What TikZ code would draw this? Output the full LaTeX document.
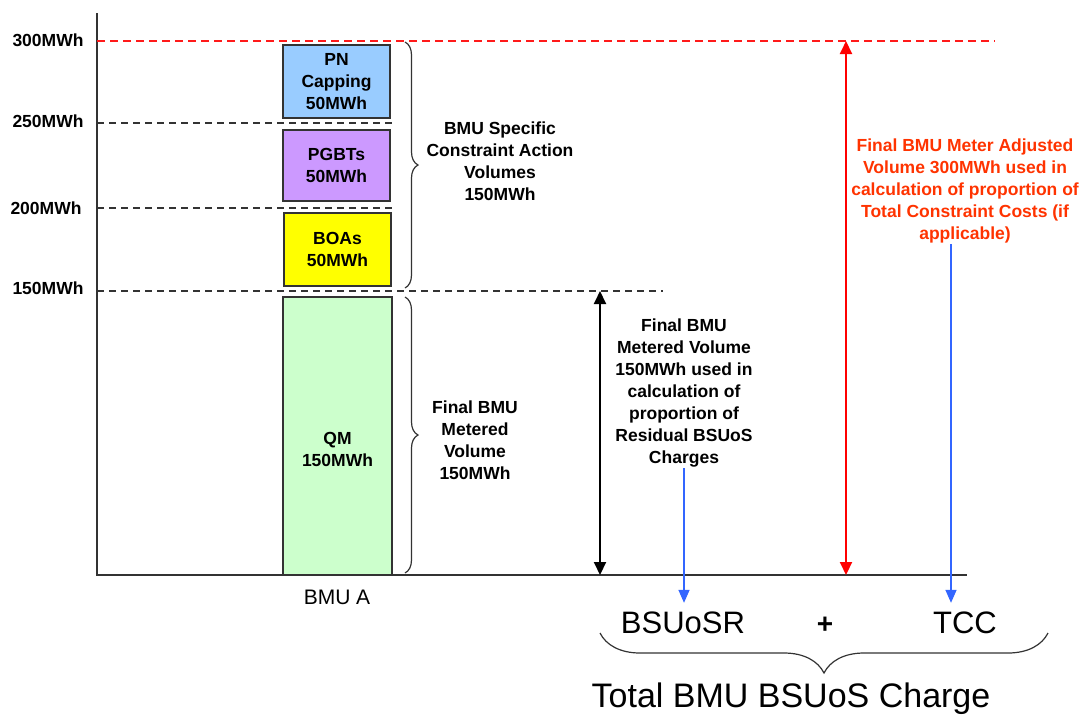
\documentclass[tikz,border=0pt]{standalone}
\usepackage{xcolor}
\usepackage{fontspec}
\setmainfont{Liberation Sans}
\usepackage{tikz}
\usetikzlibrary{arrows.meta,positioning,calc,decorations.pathreplacing}

\definecolor{pnblue}{HTML}{99CCFF}
\definecolor{pgbtpurple}{HTML}{CC99FF}
\definecolor{boayellow}{HTML}{FFFF00}
\definecolor{qmgreen}{HTML}{CCFFCC}
\definecolor{linegray}{HTML}{333333}
\definecolor{volred}{HTML}{FF1A1A}
\definecolor{notered}{HTML}{FF3300}
\definecolor{chargeblue}{HTML}{3366FF}

\begin{document}
\begin{tikzpicture}[
    x=1pt, y=-1pt,
    lbl/.style={font=\fontsize{17.5}{22}\selectfont\bfseries, align=center, inner sep=1pt},
    tick/.style={lbl},
    volbox/.style={rectangle, draw=linegray, line width=1.4pt, minimum width=107pt, lbl},
    axis/.style={draw=linegray, line width=1.5pt},
    mwhline/.style={draw=linegray, line width=1.4pt, dash pattern=on 7pt off 5pt},
    capline/.style={draw=volred, line width=1.4pt, dash pattern=on 8pt off 5pt},
    curly/.style={decorate, decoration={brace, amplitude=#1}, draw=linegray, line width=1.2pt},
    meterarrow/.style={draw=black, line width=2pt, {Triangle[length=13pt,width=12pt]}-{Triangle[length=13pt,width=12pt]}},
    adjarrow/.style={draw=red, line width=2pt, {Triangle[length=13pt,width=12pt]}-{Triangle[length=13pt,width=12pt]}},
    feed/.style={draw=chargeblue, line width=1.5pt, -{Triangle[length=13pt,width=11pt]}},
    charge/.style={font=\fontsize{31}{36}\selectfont, inner sep=9pt}
]
    \useasboundingbox (0,0) rectangle (1086,716);

    % axes and volume levels
    \draw[axis] (97,13) -- (97,575) -- (967,575);
    \node[tick] (t300) at (48,40) {300MWh};
    \node[tick] (t250) at (48,121.5) {250MWh};
    \node[tick] (t200) at (46,208.5) {200MWh};
    \node[tick] (t150) at (48,288.5) {150MWh};
    \draw[capline] (97,41) -- (995,41);
    \draw[mwhline] (97,123) -- (393,123);
    \draw[mwhline] (97,208) -- (393,208);
    \draw[mwhline] (97,291) -- (663,291);

    % BMU A stack
    \node[volbox, fill=pnblue, minimum height=73pt] (pn) at (336.5,81.5) {PN\\Capping\\50MWh};
    \node[volbox, fill=pgbtpurple, minimum height=71pt] (pgbt) at (336.5,165.5) {PGBTs\\50MWh};
    \node[volbox, fill=boayellow, minimum height=73pt] (boa) at (337.5,249.5) {BOAs\\50MWh};
    \node[volbox, fill=qmgreen, minimum width=109pt, minimum height=278pt] (qm) at (337.5,436) {};
    \node[lbl] (qmtext) at (337.5,449) {QM\\150MWh};
    \node[font=\fontsize{21}{24}\selectfont, inner sep=1pt] (bmua) at (337,597.5) {BMU A};

    % braces
    \draw[curly=13pt] (405,42) -- (405,288);
    \node[lbl] (specific) at (500,161) {BMU Specific\\Constraint Action\\Volumes\\150MWh};
    \draw[curly=13pt] (405,297) -- (405,573);
    \node[lbl] (metered) at (475,440) {Final BMU\\Metered\\Volume\\150MWh};

    % metered volume
    \coordinate (m150) at (600,291);
    \coordinate (m0) at (600,575);
    \draw[meterarrow] (m150) -- (m0);
    \node[lbl] (residual) at (684,393) {Final BMU\\Metered Volume\\150MWh used in\\calculation of\\proportion of\\Residual BSUoS\\Charges};

    % meter adjusted volume
    \coordinate (a300) at (846,41);
    \coordinate (a0) at (846,575);
    \draw[adjarrow] (a300) -- (a0);
    \node[lbl, text=notered] (costs) at (965,191) {Final BMU Meter Adjusted\\Volume 300MWh used in\\calculation of proportion of\\Total Constraint Costs (if\\applicable)};

    % charges
    \node[charge] (bsuosr) at (683,623) {BSUoSR};
    \node[charge, font=\fontsize{28}{32}\selectfont\bfseries] (plus) at (825,625) {+};
    \node[charge] (tcc) at (965,623) {TCC};
    \draw[feed] (residual.south) -- (residual.south |- bsuosr.north);
    \draw[feed] ([xshift=-14pt]costs.south) -- ([xshift=-14pt]costs.south |- tcc.north);
    \draw[curly=40pt] (1048,633) -- (600,633);
    \node[font=\fontsize{34}{38}\selectfont, inner sep=1pt] (total) at (791,699) {Total BMU BSUoS Charge};
\end{tikzpicture}
\end{document}
